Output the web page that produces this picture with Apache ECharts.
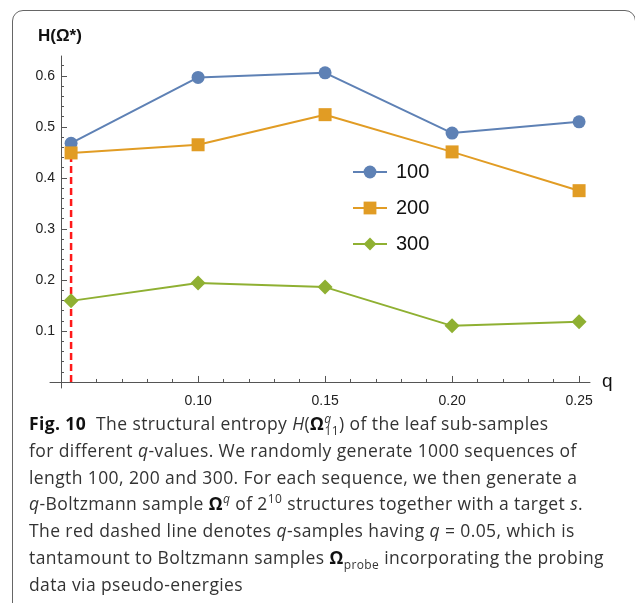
<!DOCTYPE html>
<html>
<head>
<meta charset="utf-8">
<script src="https://cdn.jsdelivr.net/npm/echarts@6/dist/echarts.min.js"></script>
<style>
  html, body { margin: 0; padding: 0; background: #fff; overflow: hidden; }
  #wrap { position: relative; width: 635px; height: 603px; overflow: hidden; }
  #chart { position: absolute; left: 0; top: 0; width: 635px; height: 603px; }
  #frame {
    position: absolute; left: 12px; top: 10px; width: 622px; height: 700px;
    border: 1.5px solid #666; border-radius: 11px; pointer-events: none;
  }
  #caption {
    position: absolute; left: 29px; top: 410px;
    font-family: "Open Sans", "Noto Sans", sans-serif; font-size: 17.5px;
    line-height: 26.8px; color: #333; white-space: nowrap; letter-spacing: 0.4px;
  }
  #caption b { color: #111; }
  #caption sub, #caption sup { font-size: 12px; line-height: 0; }
</style>
</head>
<body>
<div id="wrap">
  <div id="chart"></div>
  <div id="frame"></div>
  <div id="caption">
    <div><b>Fig. 10</b>&nbsp; The structural entropy <i>H</i>(<b>Ω</b><sup><i>q</i></sup><sub style="margin-left:-7px">11</sub>) of the leaf sub-samples</div>
    <div>for different <i>q</i>-values. We randomly generate 1000 sequences of</div>
    <div>length 100, 200 and 300. For each sequence, we then generate a</div>
    <div><i>q</i>-Boltzmann sample <b>Ω</b><sup><i>q</i></sup> of 2<sup>10</sup> structures together with a target <i>s</i>.</div>
    <div>The red dashed line denotes <i>q</i>-samples having <i>q</i> = 0.05, which is</div>
    <div>tantamount to Boltzmann samples <b>Ω</b><sub>probe</sub> incorporating the probing</div>
    <div>data via pseudo-energies</div>
  </div>
</div>
<script>
// 数据：q 值与三组长度的结构熵
var qValues = [0.05, 0.10, 0.15, 0.20, 0.25];
var h100 = [0.468, 0.597, 0.606, 0.488, 0.510];
var h200 = [0.449, 0.465, 0.524, 0.451, 0.375];
var h300 = [0.159, 0.194, 0.186, 0.110, 0.118];
var seriesNames = ['100', '200', '300'];
var probeQ = 0.05;
var probeTop = 0.45;

// 刻度
var xMajorTicks = [0.05, 0.10, 0.15, 0.20, 0.25];
var xLabels = [0.10, 0.15, 0.20, 0.25];
var yMajorTicks = [0.1, 0.2, 0.3, 0.4, 0.5, 0.6];
var xMinorTicks = [];
for (var i = 5; i <= 25; i++) { xMinorTicks.push(i / 100); }
var yMinorTicks = [];
for (var j = 1; j <= 31; j++) { yMinorTicks.push(j * 2 / 100); }

var colors = ['#5E81B5', '#E19C24', '#8FB032'];
var symbols = ['circle', 'rect', 'diamond'];
var sizes = [13, 13, 15];
var font = 'Liberation Sans';

function pairs(ys) {
  return qValues.map(function (q, k) { return [q, ys[k]]; });
}

var chart = echarts.init(document.getElementById('chart'), null, { renderer: 'canvas' });

var baseX = {
  type: 'value', min: 0.0417, max: 0.2543, position: 'bottom',
  axisLine: { onZero: true, onZeroAxisIndex: 0, lineStyle: { color: '#555', width: 1 } },
  splitLine: { show: false }
};
var baseY = {
  type: 'value', min: -0.0118, max: 0.639, position: 'left', offset: -11,
  axisLine: { show: true, lineStyle: { color: '#555', width: 1 } },
  splitLine: { show: false }
};

var lineSeries = [h100, h200, h300].map(function (ys, k) {
  return {
    name: seriesNames[k], type: 'line', data: pairs(ys),
    xAxisIndex: 0, yAxisIndex: 0,
    symbol: symbols[k], symbolSize: sizes[k], showSymbol: true,
    lineStyle: { color: colors[k], width: 2 },
    itemStyle: { color: colors[k] },
    z: 3
  };
});

var option = {
  animation: false,
  grid: { left: 50, right: 45, top: 56, bottom: 215 },
  xAxis: [
    Object.assign({}, baseX, {
      name: 'q', nameLocation: 'end', nameGap: 12,
      nameTextStyle: { fontSize: 19, color: '#111', fontFamily: font, padding: [6, 0, 0, 0] },
      axisTick: { show: true, inside: true, length: 6, customValues: xMajorTicks, lineStyle: { color: '#555' } },
      axisLabel: {
        customValues: xLabels, margin: 6, fontSize: 14, color: '#222', fontFamily: font,
        formatter: function (v) { return v.toFixed(2); }
      }
    }),
    Object.assign({}, baseX, {
      axisLine: { show: false, onZero: true, onZeroAxisIndex: 0 },
      axisTick: { show: true, inside: true, length: 3, customValues: xMinorTicks, lineStyle: { color: '#555' } },
      axisLabel: { show: false }
    })
  ],
  yAxis: [
    Object.assign({}, baseY, {
      axisTick: { show: true, inside: true, length: 6, customValues: yMajorTicks, lineStyle: { color: '#555' } },
      axisLabel: {
        customValues: yMajorTicks, margin: 6, fontSize: 14, color: '#222', fontFamily: font,
        formatter: function (v) { return v.toFixed(1); }
      }
    }),
    Object.assign({}, baseY, {
      axisLine: { show: false },
      axisTick: { show: true, inside: true, length: 3, customValues: yMinorTicks, lineStyle: { color: '#555' } },
      axisLabel: { show: false }
    })
  ],
  legend: {
    data: seriesNames, orient: 'vertical', left: 347, top: 157,
    itemWidth: 34, itemHeight: 16, itemGap: 16,
    textStyle: { fontSize: 20, color: '#111', fontFamily: font, padding: [0, 0, 0, 4] }
  },
  graphic: [{
    type: 'text', left: 38, top: 28,
    style: { text: 'H(Ω*)', font: 'bold 17px "Liberation Sans"', fill: '#111' }
  }],
  series: [{
    name: 'probe', type: 'line', data: [[probeQ, 0], [probeQ, probeTop]],
    xAxisIndex: 0, yAxisIndex: 0, symbol: 'none', silent: true,
    lineStyle: { color: '#ff1a1a', width: 2.5, type: [7, 4] }, z: 2
  }].concat(lineSeries)
};

chart.setOption(option);
</script>
</body>
</html>
